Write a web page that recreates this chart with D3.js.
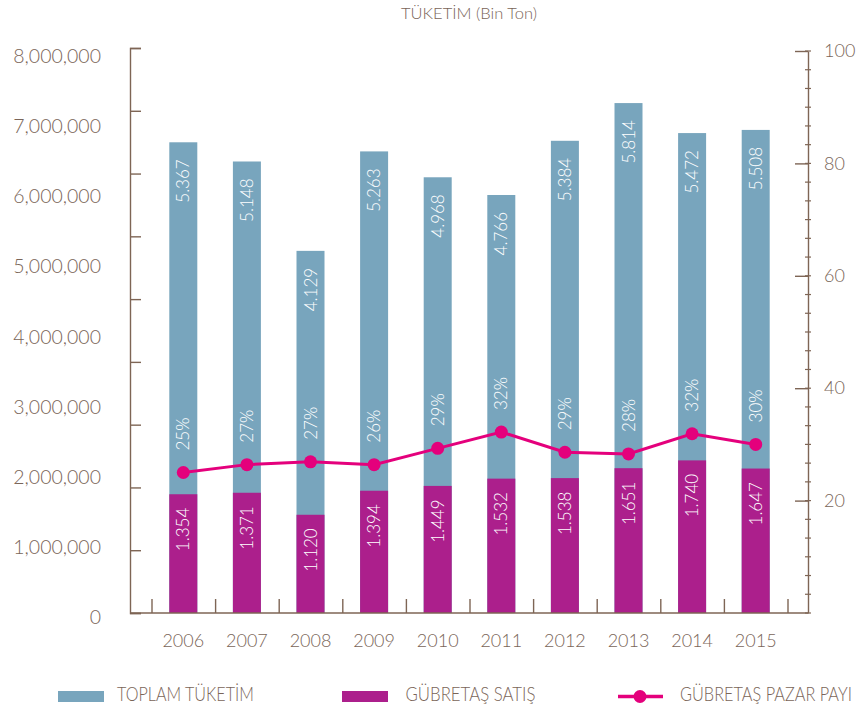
<!DOCTYPE html>
<html>
<head>
<meta charset="utf-8">
<script src="https://cdn.jsdelivr.net/npm/d3@7"></script>
<style>
  html, body { margin: 0; padding: 0; background: #fff; }
  svg { display: block; font-family: Lato, "Open Sans", sans-serif; font-weight: 300; }
</style>
</head>
<body>
<svg id="chart" width="858" height="707"></svg>
<script>
// ---- data ----
const years = ["2006","2007","2008","2009","2010","2011","2012","2013","2014","2015"];
const toplamTuketim = [5367, 5148, 4129, 5263, 4968, 4766, 5384, 5814, 5472, 5508]; // bin ton
const gubretasSatis = [1354, 1371, 1120, 1394, 1449, 1532, 1538, 1651, 1740, 1647]; // bin ton
const pazarPayi = [25.0, 26.4, 26.9, 26.4, 29.3, 32.2, 28.6, 28.3, 31.9, 30.0];       // %
const pazarPayiLabels = ["25%","27%","27%","26%","29%","32%","29%","28%","32%","30%"];
const leftTickLabels = [0, 1000000, 2000000, 3000000, 4000000, 5000000, 6000000, 7000000, 8000000];
const rightTickLabels = [20, 40, 60, 80, 100];
const legendItems = ["TOPLAM TÜKETİM", "GÜBRETAŞ SATIŞ", "GÜBRETAŞ PAZAR PAYI"];
const title = "TÜKETİM (Bin Ton)";

// ---- style ----
const C = {
  blue: "#78a5bd", magenta: "#ac1f8c", pink: "#e4007c",
  axis: "#7e6555", text: "#7a6558"
};

const svg = d3.select("#chart");
const baseY = 613, topY = 48, leftX = 130, rightX = 808;

// ---- scales ----
const x = d3.scaleBand().domain(years).range([151.5, 787.5]).paddingInner(0).paddingOuter(0);
const barW = 28;
const yBar = d3.scaleLinear().domain([0, 6442]).range([baseY, topY]);
const yLabel = d3.scaleLinear().domain([0, 8000000]).range([617.7, 56]);
const yTickMarks = d3.scaleLinear().domain([0, 9]).range([baseY, topY]);
const yR = d3.scaleLinear().domain([0, 100]).range([baseY, 51]);
const xEdge = d3.scaleLinear().domain([0, years.length]).range(x.range());

// ---- bars ----
const data = years.map((y, i) => ({ year: y, total: toplamTuketim[i], sales: gubretasSatis[i], share: pazarPayi[i], shareLabel: pazarPayiLabels[i] }));
const cx = d => x(d.year) + x.bandwidth() / 2;

svg.append("g").selectAll("rect").data(data).join("rect")
  .attr("x", d => cx(d) - barW / 2).attr("width", barW)
  .attr("y", d => yBar(d.total)).attr("height", d => baseY - yBar(d.total))
  .attr("fill", C.blue);

svg.append("g").selectAll("rect").data(data).join("rect")
  .attr("x", d => cx(d) - barW / 2).attr("width", barW)
  .attr("y", d => yBar(d.sales)).attr("height", d => baseY - yBar(d.sales))
  .attr("fill", C.magenta);

const trFmt = d3.formatLocale({ decimal: ",", thousands: ".", grouping: [3], currency: ["", ""] }).format(",");

// bar labels
svg.append("g").selectAll("text").data(data).join("text")
  .attr("transform", d => `translate(${cx(d)},${yBar(d.total) + 17}) rotate(-90)`)
  .attr("text-anchor", "end").attr("dy", "0.36em")
  .attr("fill", "#fff").attr("font-size", 17)
  .text(d => trFmt(d.total));

svg.append("g").selectAll("text").data(data).join("text")
  .attr("transform", d => `translate(${cx(d)},${yBar(d.sales) + 13.5}) rotate(-90)`)
  .attr("text-anchor", "end").attr("dy", "0.36em")
  .attr("fill", "#fff").attr("font-size", 17)
  .text(d => trFmt(d.sales));

svg.append("g").selectAll("text").data(data).join("text")
  .attr("transform", d => `translate(${cx(d)},${yR(d.share) - 22}) rotate(-90)`)
  .attr("text-anchor", "start").attr("dy", "0.36em")
  .attr("fill", "#fff").attr("font-size", 17)
  .text(d => d.shareLabel);

// ---- line ----
svg.append("path").datum(data)
  .attr("fill", "none").attr("stroke", C.pink).attr("stroke-width", 3)
  .attr("d", d3.line().x(cx).y(d => yR(d.share)));
svg.append("g").selectAll("circle").data(data).join("circle")
  .attr("cx", cx).attr("cy", d => yR(d.share)).attr("r", 6.5).attr("fill", C.pink);

// ---- axes ----
// left labels
const gLeftLab = svg.append("g").attr("transform", "translate(101,0)")
  .call(d3.axisLeft(yLabel).tickValues(leftTickLabels).tickSize(0).tickPadding(0).tickFormat(d3.format(",")));
gLeftLab.select(".domain").remove();
gLeftLab.selectAll("text").attr("fill", C.text).attr("font-size", 19.5).attr("font-family", "Lato, sans-serif");

// left tick marks
const gLeftTicks = svg.append("g").attr("transform", `translate(${leftX},0)`)
  .call(d3.axisRight(yTickMarks).tickValues(d3.range(0, 10)).tickSize(11).tickSizeOuter(11).tickFormat(""));
gLeftTicks.selectAll("path,line").attr("stroke", C.axis).attr("stroke-width", 1.4);

// right axis
const gRight = svg.append("g").attr("transform", `translate(${rightX},0)`)
  .call(d3.axisRight(yR).tickValues(rightTickLabels).tickSize(-13).tickSizeOuter(0).tickPadding(16));
gRight.selectAll("path,line").attr("stroke", C.axis).attr("stroke-width", 1.4);
gRight.selectAll("text").attr("fill", C.text).attr("font-size", 18).attr("font-family", "Lato, sans-serif");

// right minor ticks
svg.append("g").selectAll("line").data(d3.range(0, 31).map(i => i * 10 / 3)).join("line")
  .attr("x1", rightX - 3).attr("x2", rightX + 3)
  .attr("y1", d => yR(d)).attr("y2", d => yR(d))
  .attr("stroke", C.axis).attr("stroke-width", 1.2);

// bottom axis
svg.append("line").attr("x1", leftX).attr("x2", rightX).attr("y1", baseY).attr("y2", baseY)
  .attr("stroke", C.axis).attr("stroke-width", 1.4);
const gBottom = svg.append("g").attr("transform", `translate(0,${baseY})`)
  .call(d3.axisBottom(xEdge).tickValues(d3.range(0, years.length + 1)).tickSize(-14).tickSizeOuter(0).tickFormat(""));
gBottom.select(".domain").remove();
gBottom.selectAll("line").attr("stroke", C.axis).attr("stroke-width", 1.4);

const gX = svg.append("g").attr("transform", `translate(0,${baseY})`)
  .call(d3.axisBottom(x).tickSize(0).tickPadding(21));
gX.select(".domain").remove();
gX.selectAll("text").attr("fill", C.text).attr("font-size", 18).attr("font-family", "Lato, sans-serif");

// ---- title ----
svg.append("text").attr("x", 469).attr("y", 19).attr("text-anchor", "middle")
  .attr("fill", C.text).attr("font-size", 16.5).text(title);

// ---- legend ----
const lg = svg.append("g");
lg.append("rect").attr("x", 58).attr("y", 691).attr("width", 46).attr("height", 11).attr("fill", C.blue);
lg.append("rect").attr("x", 342).attr("y", 691).attr("width", 46).attr("height", 11).attr("fill", C.magenta);
lg.append("line").attr("x1", 618).attr("x2", 663).attr("y1", 696.5).attr("y2", 696.5).attr("stroke", C.pink).attr("stroke-width", 3.5);
lg.append("circle").attr("cx", 640).attr("cy", 696.5).attr("r", 6.5).attr("fill", C.pink);
const legPos = [[117, 137], [405.5, 130], [680, 172]];
lg.selectAll("text.leg").data(legendItems).join("text").attr("class", "leg")
  .attr("fill", C.text).attr("font-size", 19.5)
  .text(d => d)
  .attr("transform", function (d, i) {
    const w = this.getComputedTextLength() || legPos[i][1];
    const sx = legPos[i][1] / w;
    return `translate(${legPos[i][0]},701) scale(${sx},1)`;
  });
</script>
</body>
</html>
